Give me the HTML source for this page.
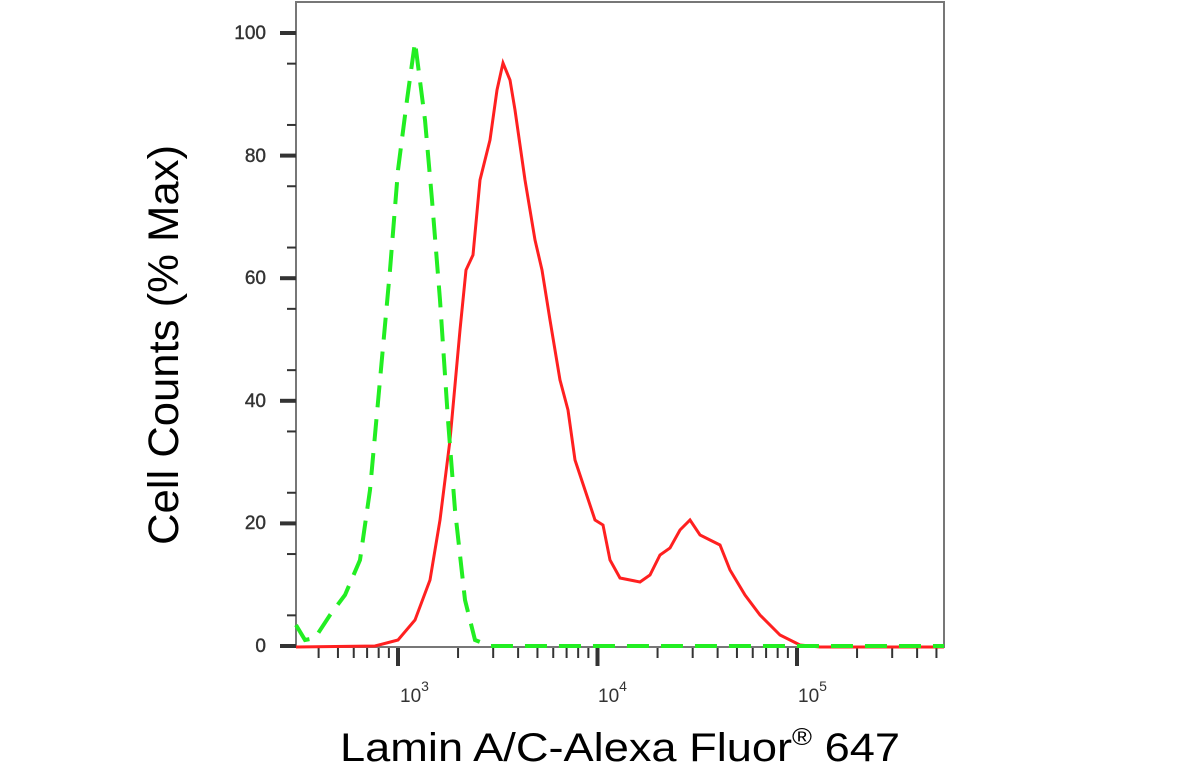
<!DOCTYPE html>
<html><head><style>body{margin:0;background:#fff}</style></head><body>
<svg width="1184" height="777" xmlns="http://www.w3.org/2000/svg" font-family="Liberation Sans, sans-serif">
<rect x="296" y="2" width="648" height="645" fill="none" stroke="#777" stroke-width="2"/>
<g stroke="#333" stroke-width="2">
<line x1="280" y1="33" x2="296" y2="33" stroke-width="4"/><line x1="280" y1="155.6" x2="296" y2="155.6" stroke-width="4"/>
<line x1="280" y1="278.2" x2="296" y2="278.2" stroke-width="4"/><line x1="280" y1="400.8" x2="296" y2="400.8" stroke-width="4"/>
<line x1="280" y1="523.4" x2="296" y2="523.4" stroke-width="4"/><line x1="280" y1="646" x2="296" y2="646" stroke-width="4"/>
<g id="mt"></g>
</g>
<g font-size="19" fill="#333" text-anchor="end" stroke="#333" stroke-width="0.4">
<text x="266" y="39">100</text><text x="266" y="162">80</text><text x="266" y="284">60</text>
<text x="266" y="407">40</text><text x="266" y="529">20</text><text x="266" y="652">0</text>
</g>
<g font-size="19" fill="#333">
<text x="400" y="702">10<tspan dy="-11" font-size="14">3</tspan></text>
<text x="598" y="702">10<tspan dy="-11" font-size="14">4</tspan></text>
<text x="798" y="702">10<tspan dy="-11" font-size="14">5</tspan></text>
</g>
<g id="xt" stroke="#333" stroke-width="2"></g>
<polyline fill="none" stroke="#ff2020" stroke-width="3" points="296,647 375,646 398,640 415,620 430,580 440,520 450,440 460,330 466,270 473,255 480,180 490,140 497,90 503,63 510,80 515,110 525,180 535,240 542,270 550,320 560,380 568,410 575,460 585,490 595,520 603,525 610,560 620,578 640,582 650,575 660,555 670,548 680,530 690,520 700,535 710,540 720,545 730,570 745,595 760,615 780,635 800,645 820,647 944,647"/>
<polyline fill="none" stroke="#22ee22" stroke-width="4" stroke-dasharray="22,12" points="296,625 305,640 315,638 330,615 345,595 360,560 370,490 380,380 390,270 398,170 407,100 415,42 425,120 432,200 440,300 448,420 455,510 465,600 475,640 490,646 944,646"/>
<text x="620" y="761" font-size="40" text-anchor="middle" fill="#000" textLength="560" lengthAdjust="spacingAndGlyphs">Lamin A/C-Alexa Fluor<tspan dy="-16" font-size="24">®</tspan><tspan dy="16"> 647</tspan></text>
<text transform="translate(178,345) rotate(-90)" font-size="43" text-anchor="middle" fill="#000" textLength="400" lengthAdjust="spacingAndGlyphs">Cell Counts (% Max)</text>
</svg>
<script>
var ns="http://www.w3.org/2000/svg";
var mt=document.getElementById("mt");
for(var v=5;v<100;v+=10){var y=646-v*6.13;var l=document.createElementNS(ns,"line");l.setAttribute("x1",287);l.setAttribute("x2",296);l.setAttribute("y1",y);l.setAttribute("y2",y);mt.appendChild(l);}
var xt=document.getElementById("xt");
for(var k=2;k<=5;k++)for(var m=1;m<10;m++){var x=398+(k-3+Math.log10(m))*199.5;if(x<297||x>944)continue;var l=document.createElementNS(ns,"line");l.setAttribute("x1",x);l.setAttribute("x2",x);l.setAttribute("y1",648);l.setAttribute("y2",m==1?666:658);if(m==1)l.setAttribute("stroke-width",4);xt.appendChild(l);}
</script>
</body></html>
